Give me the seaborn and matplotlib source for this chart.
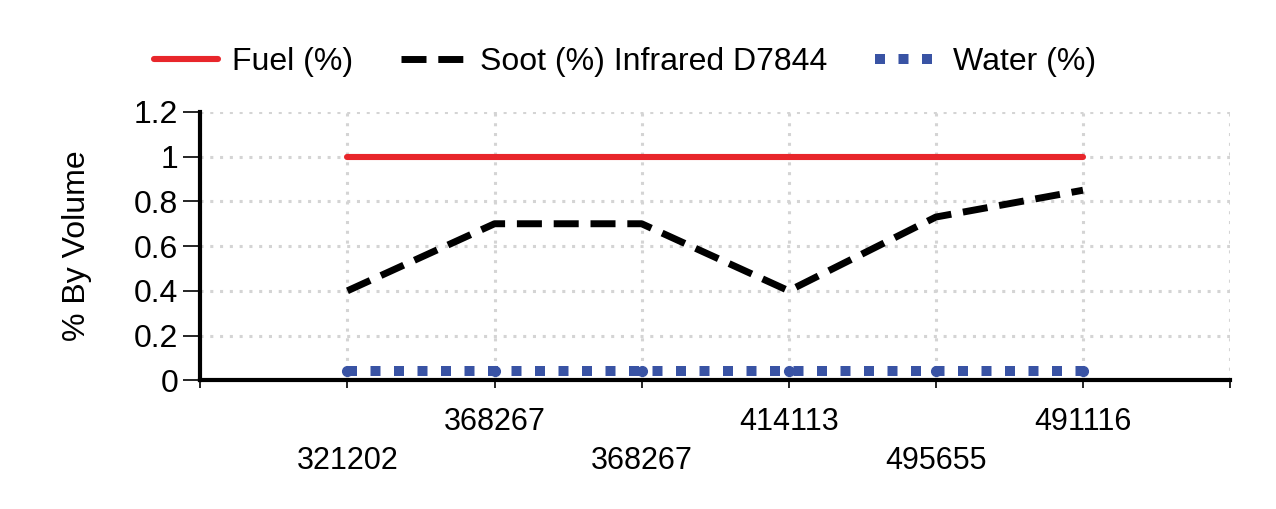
import numpy as np
import pandas as pd
import matplotlib
matplotlib.use("Agg")
import matplotlib.pyplot as plt
import seaborn as sns

# ---- data ----
samples = ["321202", "368267", "368267", "414113", "495655", "491116"]
fuel = [1.0, 1.0, 1.0, 1.0, 1.0, 1.0]
soot = [0.40, 0.70, 0.70, 0.40, 0.73, 0.85]
water = [0.04, 0.04, 0.04, 0.04, 0.04, 0.04]

sns.set_style("white")
plt.rcParams["font.family"] = ["Liberation Sans", "DejaVu Sans"]
plt.rcParams["text.color"] = "black"
plt.rcParams["xtick.color"] = "black"
plt.rcParams["ytick.color"] = "black"
plt.rcParams["axes.labelcolor"] = "black"

pos = np.arange(len(samples))
df = pd.DataFrame({"pos": pos, "fuel": fuel, "soot": soot, "water": water})

fig = plt.figure(figsize=(12.76, 5.09), dpi=100)
ax = fig.add_axes([0.157, 0.253, 0.807, 0.527])

sns.lineplot(data=df, x="pos", y="fuel", ax=ax, color="#e8262b", lw=4.4,
             solid_capstyle="round", label="Fuel (%)")
sns.lineplot(data=df, x="pos", y="soot", ax=ax, color="black", lw=5,
             dashes=False, label="Soot (%) Infrared D7844")
ax.lines[-1].set_dashes([3.6, 1.7])
ax.lines[-1].set_dash_capstyle("butt")
sns.lineplot(data=df, x="pos", y="water", ax=ax, color="#3953a4", lw=7.2,
             label="Water (%)")
ax.lines[-1].set_dashes([1, 1.35])
ax.lines[-1].set_dash_capstyle("butt")
ax.plot(pos, water, "o", color="#3953a4", ms=7, zorder=3)

ax.set_xlim(-1, len(samples))
ax.set_ylim(0, 1.2)
ax.set_yticks(np.arange(0, 1.21, 0.2))
ax.set_yticklabels(["0", "0.2", "0.4", "0.6", "0.8", "1", "1.2"])
ax.set_xticks(np.arange(-1, len(samples) + 1))
xlabels = [""] + [("\n" + s) if i % 2 == 0 else s for i, s in enumerate(samples)] + [""]
ax.set_xticklabels(xlabels)
for t in ax.get_xticklabels():
    t.set_linespacing(1.4)

ax.grid(True, color="#d4d4d4", linestyle=(0, (1, 2.2)), lw=2.2)
ax.set_axisbelow(True)
for s in ["top", "right"]:
    ax.spines[s].set_visible(False)
for s in ["left", "bottom"]:
    ax.spines[s].set_linewidth(3)
    ax.spines[s].set_color("black")

ax.tick_params(axis="y", length=12, width=1.2, labelsize=23, pad=4, left=True)
ax.tick_params(axis="x", length=6, width=1.2, labelsize=22, pad=13, bottom=True)
ax.set_xlabel("")
ax.set_ylabel("% By Volume", fontsize=23, labelpad=30)

ax.legend(loc="center", bbox_to_anchor=(0.49, 0.878), bbox_transform=fig.transFigure,
          ncol=3, frameon=False, fontsize=23, handlelength=2.0, columnspacing=1.5,
          handletextpad=0.45)

fig.savefig("out.png", dpi=100)
